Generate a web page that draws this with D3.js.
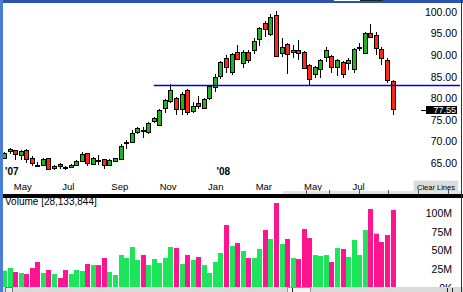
<!DOCTYPE html>
<html>
<head>
<meta charset="utf-8">
<script src="https://cdn.jsdelivr.net/npm/d3@7"></script>
<style>
  body { margin: 0; background: #fff; overflow: hidden; }
  svg { display: block; }
  text { font-family: "Liberation Sans", Arial, sans-serif; }
</style>
</head>
<body>
<svg id="chart" width="463" height="292"></svg>
<script>
// weekly bars, first week starts Mon Apr 23 2007
const firstWeek = new Date(2007, 3, 23);
const opens = [66.13, 67.59, 67.91, 66.75, 67.98, 66.06, 64.6, 64.43, 66.06, 63.73,
  64.66, 64.0, 63.97, 64.43, 65.5, 67.22, 64.66, 65.7, 65.82, 64.5,
  65.27, 65.96, 69.6, 69.9, 72.09, 72.6, 72.0, 74.55, 73.8, 77.8,
  79.2, 79.98, 77.42, 81.83, 76.87, 78.82, 77.66, 79.98, 82.6, 85.08,
  89.26, 85.9, 90.79, 88.33, 90.79, 91.02, 93.57, 97.38, 94.83, 99.23,
  90.42, 92.5, 90.65, 91.18, 90.65, 87.63, 85.55, 86.71, 89.49, 89.79,
  87.17, 88.33, 88.1, 86.71, 91.7, 90.42, 95.06, 94.59, 91.48, 88.79, 84.06];
const highs = [67.5, 68.4, 68.0, 67.87, 68.1, 66.59, 65.2, 66.1, 66.2, 64.4,
  64.85, 64.27, 64.73, 65.66, 67.5, 67.4, 66.36, 66.75, 66.0, 65.78,
  66.2, 69.37, 70.3, 72.62, 73.43, 73.4, 74.5, 75.6, 77.5, 79.8,
  83.3, 80.3, 81.4, 82.1, 79.05, 80.5, 80.0, 83.06, 85.5, 88.6,
  90.0, 90.5, 92.3, 91.1, 91.1, 93.9, 96.5, 97.9, 99.54, 100.2,
  93.9, 92.8, 92.34, 93.5, 90.95, 87.94, 87.47, 89.1, 91.81, 90.0,
  89.1, 88.63, 89.26, 91.65, 92.92, 95.43, 97.17, 95.43, 91.95, 89.26, 84.2];
const lows = [65.9, 67.05, 65.66, 65.66, 65.03, 64.27, 63.97, 64.27, 63.34, 63.34,
  63.5, 63.34, 63.8, 64.27, 65.2, 64.27, 64.4, 64.5, 63.57, 64.27,
  65.1, 65.9, 68.14, 69.72, 71.7, 70.7, 71.7, 74.2, 73.6, 76.5,
  79.0, 76.1, 76.1, 76.1, 76.6, 77.4, 77.5, 79.65, 81.5, 84.4,
  85.8, 85.4, 89.1, 87.08, 88.24, 90.26, 92.04, 94.27, 94.4, 89.56,
  89.63, 85.6, 89.26, 88.86, 86.77, 83.06, 84.62, 84.62, 88.47, 85.78,
  85.22, 84.62, 86.54, 85.78, 90.84, 90.26, 93.97, 90.02, 87.7, 83.46, 76.1];
const closes = [67.29, 68.14, 67.05, 67.75, 65.82, 64.9, 64.55, 65.89, 63.5, 64.27,
  64.2, 63.9, 64.5, 65.43, 67.05, 64.9, 66.06, 65.6, 64.5, 65.66,
  66.06, 68.91, 69.75, 72.0, 73.0, 72.3, 74.18, 75.34, 77.26, 79.58,
  81.83, 77.42, 80.9, 76.73, 78.12, 78.12, 79.75, 82.76, 84.85, 88.33,
  87.17, 90.19, 89.26, 90.79, 89.03, 93.2, 96.22, 95.99, 98.77, 89.63,
  91.81, 90.19, 91.18, 90.42, 86.94, 84.45, 87.17, 88.79, 91.11, 87.17,
  88.79, 85.61, 88.79, 91.35, 91.85, 95.06, 94.13, 91.58, 89.49, 84.06, 77.55];
// volume in millions
const volumes = [22.8, 26.4, 21.0, 19.7, 18.3, 26.4, 34.4, 19.7, 23.7, 18.3,
  13.0, 23.7, 18.3, 23.7, 22.4, 31.7, 30.3, 30.3, 39.8, 21.0,
  17.0, 43.8, 39.8, 54.5, 37.1, 43.8, 30.3, 38.4, 33.1, 39.8,
  54.5, 53.1, 31.7, 43.8, 37.1, 41.1, 30.3, 19.7, 34.4, 46.5,
  83.9, 55.8, 59.8, 49.1, 39.8, 39.8, 51.8, 77.2, 65.2, 113.4,
  58.5, 65.2, 39.8, 38.4, 78.6, 66.5, 43.8, 42.4, 43.8, 34.4,
  53.1, 51.8, 41.1, 63.9, 43.8, 77.2, 105.4, 72.3, 61.2, 70.5, 104.1];

const priceTicks = [65, 70, 75, 80, 85, 90, 95, 100];
const volumeTicks = [0, 25, 50, 75, 100];
const volumeTickLabels = ["0K", "25M", "50M", "75M", "100M"];
const monthTicks = [new Date(2007, 4, 1), new Date(2007, 6, 1), new Date(2007, 8, 1), new Date(2007, 10, 1),
  new Date(2008, 0, 1), new Date(2008, 2, 1), new Date(2008, 4, 1), new Date(2008, 6, 1)];
const monthLabels = ["May", "Jul", "Sep", "Nov", "Jan", "Mar", "May", "Jul"];
const yearTicks = [new Date(2007, 0, 1), new Date(2008, 0, 1)];
const yearLabels = ["'07", "'08"];
const lineLevel = 83.05;     // drawn trend line
const lineStartWeek = 27;
const lastPrice = 77.55;
const volumeTitle = "Volume  [28,133,844]";

const weeks = d3.range(opens.length).map(i => d3.timeWeek.offset(firstWeek, i));
const bars = weeks.map((d, i) => ({
  date: d, open: opens[i], high: highs[i], low: lows[i], close: closes[i], volume: volumes[i]
}));

const svg = d3.select("#chart");
const green = "#21b321", red = "#ff2810";
const volGreen = "#1de55b", volPink = "#ff1490";

let x = d3.scaleTime()
  .domain([weeks[0], weeks[weeks.length - 1]])
  .range([4, 392.5]);
let y = d3.scaleLinear()
  .domain([65, 100])
  .range([12 + 35 * 4.31, 12]);
let yv = d3.scaleLinear()
  .domain([0, 100])
  .range([287.7, 213]);

svg.append("rect").attr("width", 463).attr("height", 292).attr("fill", "#fff");

svg.append("defs").append("clipPath").attr("id", "plotClip")
  .append("rect").attr("x", 3).attr("y", 3).attr("width", 400).attr("height", 178);

// price axis
svg.append("g")
  .attr("transform", "translate(457,0)")
  .call(d3.axisLeft(y).tickValues(priceTicks).tickFormat(d3.format(".2f")).tickSize(0).tickPadding(0))
  .call(g => g.select(".domain").remove())
  .selectAll("text")
  .attr("font-family", "Liberation Sans, Arial, sans-serif")
  .attr("font-size", "10.5px")
  .attr("fill", "#000");

// month axis
svg.append("g")
  .attr("transform", "translate(0,183)")
  .call(d3.axisBottom(x).tickValues(monthTicks).tickFormat((d, i) => monthLabels[i]).tickSize(0).tickPadding(0))
  .call(g => g.select(".domain").remove())
  .selectAll("text")
  .attr("text-anchor", "start")
  .attr("dx", 3)
  .attr("font-family", "Liberation Sans, Arial, sans-serif")
  .attr("font-size", "9.5px")
  .attr("fill", "#000");

svg.selectAll(".year")
  .data(yearTicks)
  .join("text")
  .attr("class", "year")
  .attr("x", d => Math.max(5, x(d) + 12))
  .attr("y", 175)
  .attr("font-size", "10px")
  .attr("font-weight", "bold")
  .text((d, i) => yearLabels[i]);

// candles
let plot = svg.append("g").attr("clip-path", "url(#plotClip)");
let candle = plot.selectAll(".candle")
  .data(bars)
  .join("g")
  .attr("class", "candle")
  .attr("transform", d => "translate(" + Math.round(x(d.date)) + ",0)");

candle.append("line")
  .attr("x1", 0.5).attr("x2", 0.5)
  .attr("y1", d => Math.round(y(d.high)))
  .attr("y2", d => Math.round(y(d.low)))
  .attr("stroke", "#000")
  .attr("stroke-width", 1);

candle.append("rect")
  .attr("x", -1.5)
  .attr("width", 4)
  .attr("y", d => Math.round(y(Math.max(d.open, d.close))) + 0.5)
  .attr("height", d => Math.max(1, Math.round(Math.abs(y(d.open) - y(d.close)))))
  .attr("fill", d => d.close >= d.open ? green : red)
  .attr("stroke", "#000")
  .attr("stroke-width", 1);

// drawn horizontal line
svg.append("line")
  .attr("x1", x(weeks[lineStartWeek])).attr("x2", 460)
  .attr("y1", Math.round(y(lineLevel)) + 0.5).attr("y2", Math.round(y(lineLevel)) + 0.5)
  .attr("stroke", "#0000dd")
  .attr("stroke-width", 1.3);

// last price marker
let lastY = Math.round(y(lastPrice));
svg.append("line")
  .attr("x1", 421).attr("x2", 426)
  .attr("y1", lastY + 1.5).attr("y2", lastY + 1.5)
  .attr("stroke", "#000");
svg.append("rect")
  .attr("x", 426).attr("y", lastY - 3).attr("width", 31).attr("height", 8)
  .attr("fill", "#000");
svg.append("text")
  .attr("x", 456).attr("y", lastY + 1).attr("dy", "0.35em")
  .attr("text-anchor", "end")
  .attr("font-size", "9px")
  .attr("fill", "#fff")
  .text(lastPrice.toFixed(2));

// Clear Lines button
svg.append("rect")
  .attr("x", 413.5).attr("y", 180.5).attr("width", 45).attr("height", 11)
  .attr("fill", "#dcdcdc").attr("stroke", "#f4f4f4");
svg.append("text")
  .attr("x", 436).attr("y", 189.5)
  .attr("text-anchor", "middle")
  .attr("font-size", "7.5px")
  .text("Clear Lines");

// small ruler strip above the separator
svg.append("rect")
  .attr("x", 283).attr("y", 191).attr("width", 178).attr("height", 3)
  .attr("fill", "#e4e4e4");
svg.selectAll(".rtick")
  .data([306, 329, 359, 388, 418, 448])
  .join("line")
  .attr("class", "rtick")
  .attr("x1", d => d + 0.5).attr("x2", d => d + 0.5)
  .attr("y1", 190).attr("y2", 194)
  .attr("stroke", "#555");

// separator
svg.append("rect")
  .attr("x", 0).attr("y", 194).attr("width", 463).attr("height", 4)
  .attr("fill", "#000");

// volume pane
svg.append("text")
  .attr("x", 5).attr("y", 205)
  .attr("font-size", "10px")
  .text(volumeTitle);

svg.append("g")
  .selectAll(".vol")
  .data(bars)
  .join("rect")
  .attr("class", "vol")
  .attr("x", d => Math.round(x(d.date) - 2))
  .attr("width", 5)
  .attr("y", d => yv(d.volume))
  .attr("height", d => yv(0) - yv(d.volume))
  .attr("fill", d => d.close >= d.open ? volGreen : volPink);

svg.append("g")
  .attr("transform", "translate(452,0)")
  .call(d3.axisLeft(yv).tickValues(volumeTicks).tickFormat((d, i) => volumeTickLabels[i]).tickSize(0).tickPadding(0))
  .call(g => g.select(".domain").remove())
  .selectAll("text")
  .attr("font-family", "Liberation Sans, Arial, sans-serif")
  .attr("font-size", "10.5px")
  .attr("fill", "#000");

// bottom scrollbar
svg.append("rect")
  .attr("x", 0).attr("y", 287).attr("width", 463).attr("height", 5)
  .attr("fill", "#dadada");
svg.append("rect")
  .attr("x", 5.5).attr("y", 287.5).attr("width", 7).attr("height", 5)
  .attr("fill", "#e8e8e8").attr("stroke", "#777");
svg.append("rect")
  .attr("x", 287.5).attr("y", 287.5).attr("width", 23).attr("height", 5)
  .attr("fill", "#f2f2f2").attr("stroke", "#999");
svg.selectAll(".stick")
  .data([292, 447, 452])
  .join("line")
  .attr("class", "stick")
  .attr("x1", d => d + 0.5).attr("x2", d => d + 0.5)
  .attr("y1", 288).attr("y2", 292)
  .attr("stroke", "#222");

// window frame
svg.append("rect").attr("x", 0).attr("y", 0).attr("width", 463).attr("height", 3).attr("fill", "#2c52ad");
svg.append("rect").attr("x", 0).attr("y", 0).attr("width", 3).attr("height", 292).attr("fill", "#4a7ed6");
svg.append("rect").attr("x", 334).attr("y", 0).attr("width", 26).attr("height", 1).attr("fill", "#fff");
svg.append("rect").attr("x", 360).attr("y", 0).attr("width", 23).attr("height", 1).attr("fill", "#222");
svg.append("line")
  .attr("x1", 461.5).attr("x2", 461.5).attr("y1", 0).attr("y2", 292)
  .attr("stroke", "#333");
</script>
</body>
</html>
